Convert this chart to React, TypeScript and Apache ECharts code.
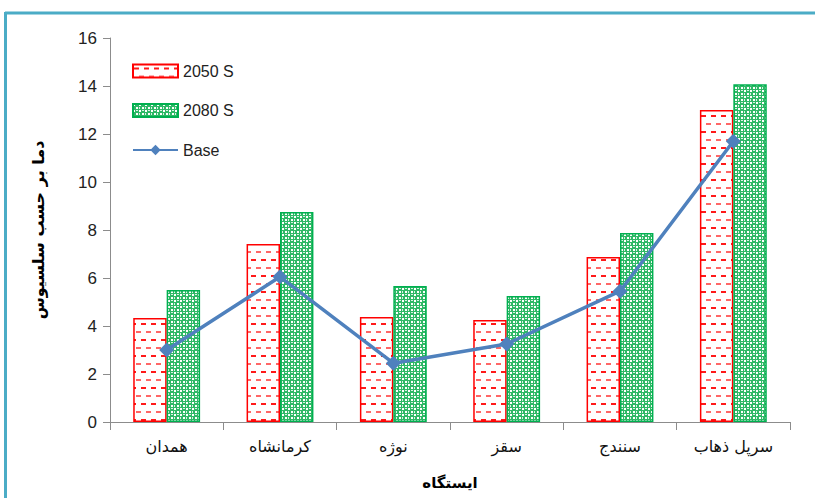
import React, { useEffect, useRef } from "react";
import * as echarts from "echarts";

const categories = ["همدان", "کرمانشاه", "نوژه", "سقز", "سنندج", "سرپل ذهاب"];
const s2050 = [4.33, 7.42, 4.38, 4.25, 6.87, 13.0];
const s2080 = [5.5, 8.75, 5.67, 5.25, 7.88, 14.07];
const base = [3.0, 6.05, 2.45, 3.25, 5.45, 11.7];
const seriesNames = ["2050 S", "2080 S", "Base"];
const yTitle = "دما بر حسب سلسیوس";
const xTitle = "ایستگاه";

function redPattern(): string {
  const c = document.createElement("canvas");
  c.width = 10;
  c.height = 16;
  const g = c.getContext("2d")!;
  g.fillStyle = "#ffffff";
  g.fillRect(0, 0, 10, 16);
  g.fillStyle = "#ff1a1a";
  g.fillRect(1, 3, 5, 2);
  g.fillStyle = "#ff6666";
  g.fillRect(6, 11, 4, 2);
  g.fillRect(0, 11, 1, 2);
  return c.toDataURL();
}

function greenPattern(): string {
  const c = document.createElement("canvas");
  c.width = 6;
  c.height = 6;
  const g = c.getContext("2d")!;
  g.fillStyle = "#2fb866";
  g.fillRect(0, 0, 6, 6);
  g.fillStyle = "#ffffff";
  g.fillRect(0, 0, 2, 2);
  g.fillRect(3, 3, 2, 2);
  g.fillStyle = "#d9f2e3";
  g.fillRect(3, 0, 2, 1);
  g.fillRect(0, 3, 1, 2);
  return c.toDataURL();
}

export default function App() {
  const ref = useRef<HTMLDivElement>(null);
  useEffect(() => {
    const chart = echarts.init(ref.current!, undefined, { renderer: "svg" });
    const rp = { image: redPattern(), repeat: "repeat" };
    const gp = { image: greenPattern(), repeat: "repeat" };
    const font = "Liberation Sans";
    chart.setOption({
      animation: false,
      backgroundColor: "#ffffff",
      grid: { left: 110, right: 25, top: 38, bottom: 76, containLabel: false },
      legend: {
        orient: "vertical",
        left: 127,
        top: 58,
        itemWidth: 45,
        itemHeight: 13,
        itemGap: 23.5,
        textStyle: { fontFamily: font, fontSize: 16, color: "#222" },
        data: [
          { name: seriesNames[0], icon: "rect" },
          { name: seriesNames[1], icon: "rect" },
          { name: seriesNames[2] },
        ],
      },
      xAxis: {
        type: "category",
        data: categories,
        name: xTitle,
        nameLocation: "middle",
        nameGap: 53,
        nameTextStyle: { fontFamily: "DejaVu Sans", fontSize: 15, fontWeight: "bold", color: "#000" },
        axisLine: { lineStyle: { color: "#8c8c8c", width: 1 } },
        axisTick: { show: true, length: 8, lineStyle: { color: "#8c8c8c" } },
        axisLabel: { fontFamily: "DejaVu Sans", fontSize: 16, color: "#111", margin: 16 },
      },
      yAxis: {
        type: "value",
        min: 0,
        max: 16,
        interval: 2,
        name: yTitle,
        nameLocation: "middle",
        nameGap: 64,
        nameRotate: 90,
        nameTextStyle: { fontFamily: "DejaVu Sans", fontSize: 16, fontWeight: "bold", color: "#000" },
        axisLine: { show: true, lineStyle: { color: "#8c8c8c", width: 1 } },
        axisTick: { show: true, length: 7, lineStyle: { color: "#8c8c8c" } },
        axisLabel: { fontFamily: font, fontSize: 17, color: "#222", margin: 13 },
        splitLine: { show: false },
      },
      series: [
        {
          name: seriesNames[0],
          type: "bar",
          data: s2050,
          barGap: "0%",
          barCategoryGap: "41%",
          itemStyle: { color: rp, borderColor: "#ff0000", borderWidth: 1.5 },
        },
        {
          name: seriesNames[1],
          type: "bar",
          data: s2080,
          itemStyle: { color: gp, borderColor: "#00b050", borderWidth: 1.5 },
        },
        {
          name: seriesNames[2],
          type: "line",
          data: base,
          symbol: "diamond",
          symbolSize: 15,
          lineStyle: { color: "#4f81bd", width: 3.5 },
          itemStyle: { color: "#4f81bd" },
          z: 5,
        },
      ],
      graphic: [
        { type: "line", shape: { x1: 5, y1: 13, x2: 815, y2: 13 }, style: { stroke: "#4bacc6", lineWidth: 3 }, silent: true },
        { type: "line", shape: { x1: 5.5, y1: 12, x2: 5.5, y2: 498 }, style: { stroke: "#4bacc6", lineWidth: 3 }, silent: true },
      ],
    });
    return () => chart.dispose();
  }, []);
  return <div ref={ref} style={{ position: "absolute", left: 0, top: 0, width: 815, height: 498 }} />;
}
